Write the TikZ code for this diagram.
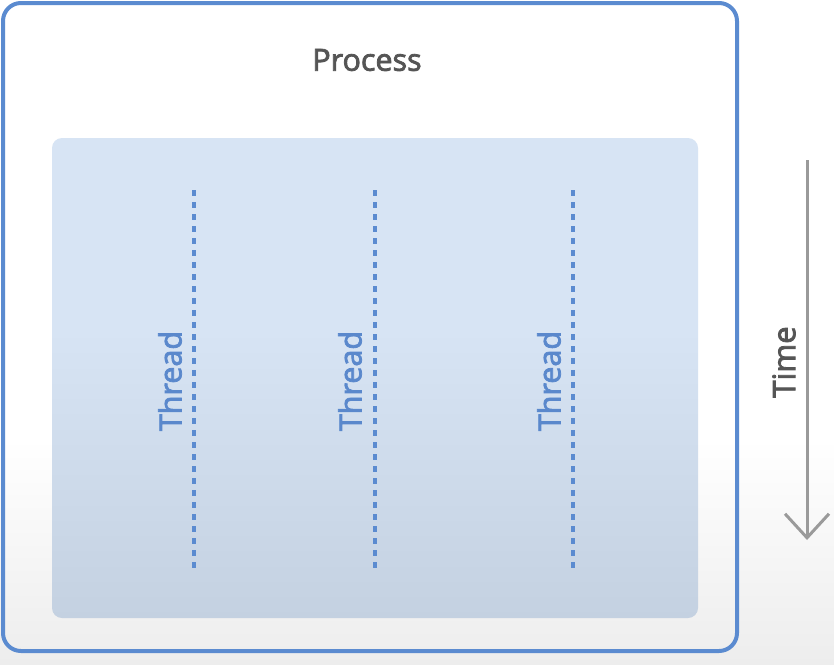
\documentclass[tikz,border=0pt]{standalone}
\usepackage{fontspec}
\setmainfont{Open Sans}
\newfontfamily\semifont{Open Sans}[FakeBold=2.6]
\usetikzlibrary{arrows.meta}
\definecolor{pblue}{HTML}{5B8BD0}
\definecolor{tblue}{HTML}{5A88CC}
\definecolor{innertop}{HTML}{D7E4F4}
\definecolor{innerbot}{HTML}{BCC9D9}
\definecolor{bggray}{HTML}{E0E0E0}
\definecolor{titlegray}{HTML}{555555}
\definecolor{arrowgray}{HTML}{9A9A9A}
\pgfdeclareverticalshading{innershade}{100bp}{color(0bp)=(innerbot); color(25bp)=(innerbot!70!innertop); color(55bp)=(innertop); color(100bp)=(innertop)}
\pgfdeclareverticalshading{bgshade}{100bp}{color(0bp)=(bggray); color(20bp)=(bggray!75!white); color(42bp)=(white); color(100bp)=(white)}
\tikzset{
  outerbox/.style={draw=pblue, line width=4pt, rounded corners=18pt},
  innerbox/.style={rounded corners=10pt, shading=innershade},
  threadline/.style={draw=pblue, line width=3.5pt, dash pattern=on 6pt off 6pt},
  threadlabel/.style={text=tblue, font=\semifont\fontsize{30.5}{36}\selectfont, rotate=90, inner sep=0pt},
  titlelabel/.style={text=titlegray, font=\semifont\fontsize{30.5}{36}\selectfont, inner sep=0pt},
  timelabel/.style={text=titlegray, font=\semifont\fontsize{31}{36}\selectfont, rotate=90, inner sep=0pt},
  timearrow/.style={draw=arrowgray, line width=3pt, -{Straight Barb[length=24pt,width=44pt,line width=3pt]}}
}
\begin{document}
\begin{tikzpicture}[x=1pt,y=-1pt]
\useasboundingbox (0,0) rectangle (834,664);
\shade[shading=bgshade] (0,0) rectangle (834,664);
\path[innerbox] (52,138) rectangle (698,618);
\draw[outerbox] (3,3) rectangle (737,651);
\node[titlelabel] (process) at (367,60) {Process};
\coordinate (t1top) at (194,190);
\coordinate (t1bot) at (194,570);
\coordinate (t2top) at (375,190);
\coordinate (t2bot) at (375,570);
\coordinate (t3top) at (573,190);
\coordinate (t3bot) at (573,570);
\draw[threadline] (t1top) -- (t1bot);
\draw[threadline] (t2top) -- (t2bot);
\draw[threadline] (t3top) -- (t3bot);
\node[threadlabel] (th1) at (170,381) {Thread};
\node[threadlabel] (th2) at (350,381) {Thread};
\node[threadlabel] (th3) at (549,381) {Thread};
\coordinate (timetop) at (807,160);
\coordinate (timebot) at (807,540);
\draw[timearrow] (timetop) -- (timebot);
\node[timelabel] (time) at (784,362) {Time};
\end{tikzpicture}
\end{document}
